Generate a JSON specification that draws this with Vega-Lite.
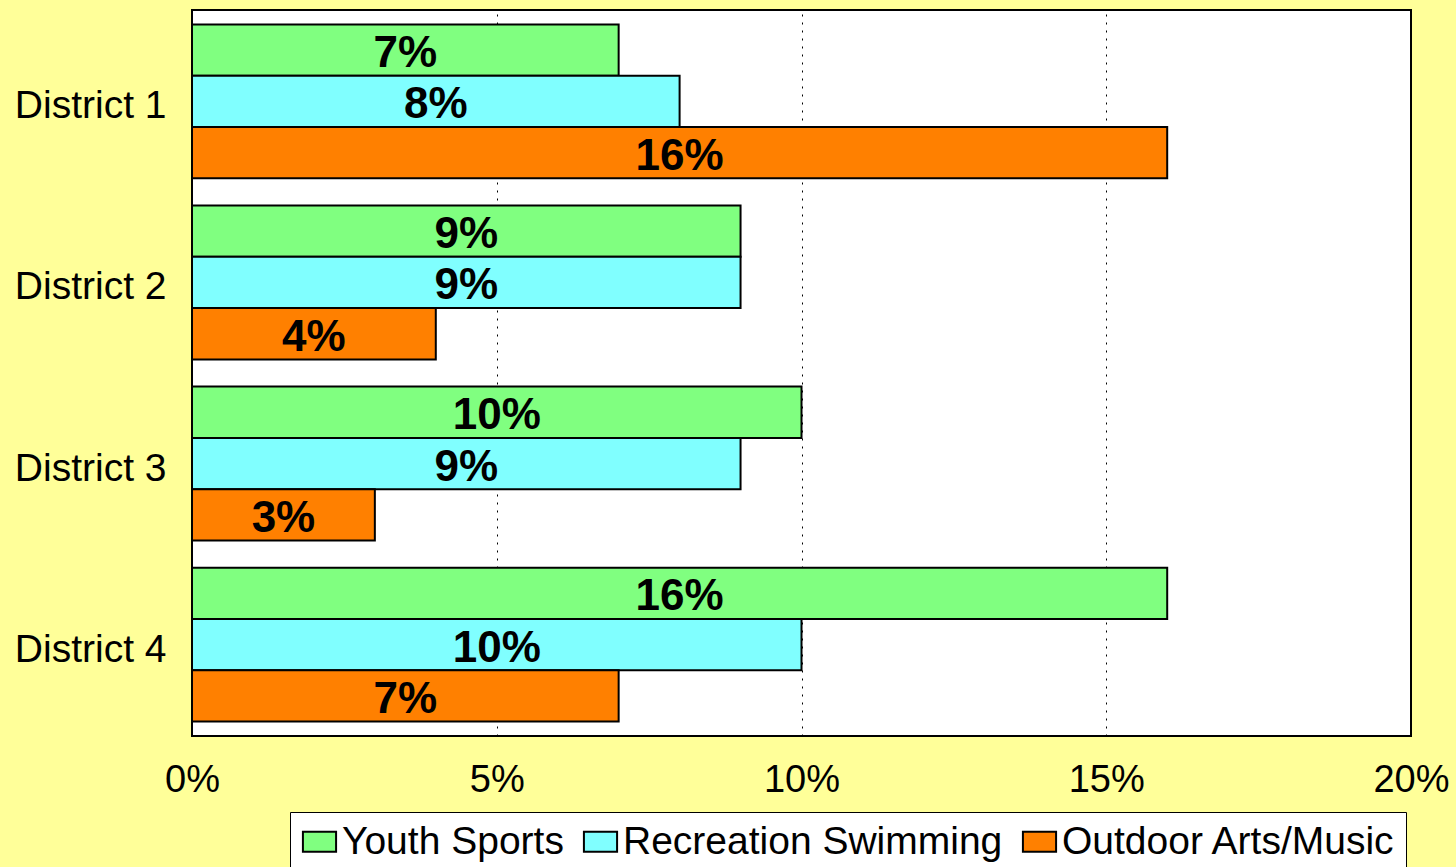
{
  "$schema": "https://vega.github.io/schema/vega-lite/v6.json",
  "width": 1219,
  "height": 726,
  "autosize": "none",
  "padding": {"left": 192, "top": 10, "right": 45, "bottom": 131},
  "background": "#FFFF99",
  "config": {
    "view": {"fill": "white", "stroke": "black", "strokeWidth": 2},
    "font": "Liberation Sans"
  },
  "data": {
    "values": [
      {"district": "District 1", "series": "Youth Sports", "value": 0.07},
      {"district": "District 1", "series": "Recreation Swimming", "value": 0.08},
      {"district": "District 1", "series": "Outdoor Arts/Music", "value": 0.16},
      {"district": "District 2", "series": "Youth Sports", "value": 0.09},
      {"district": "District 2", "series": "Recreation Swimming", "value": 0.09},
      {"district": "District 2", "series": "Outdoor Arts/Music", "value": 0.04},
      {"district": "District 3", "series": "Youth Sports", "value": 0.10},
      {"district": "District 3", "series": "Recreation Swimming", "value": 0.09},
      {"district": "District 3", "series": "Outdoor Arts/Music", "value": 0.03},
      {"district": "District 4", "series": "Youth Sports", "value": 0.16},
      {"district": "District 4", "series": "Recreation Swimming", "value": 0.10},
      {"district": "District 4", "series": "Outdoor Arts/Music", "value": 0.07}
    ]
  },
  "encoding": {
    "y": {
      "field": "district",
      "type": "nominal",
      "title": null,
      "scale": {"paddingInner": 0.15, "paddingOuter": 0.08},
      "axis": {
        "domain": false,
        "ticks": false,
        "labelFontSize": 39,
        "labelFont": "Liberation Sans",
        "labelColor": "black",
        "labelPadding": 26,
        "labelOffset": 5,
        "labelLimit": 400
      }
    },
    "yOffset": {
      "field": "series",
      "type": "nominal",
      "scale": {
        "domain": ["Youth Sports", "Recreation Swimming", "Outdoor Arts/Music"],
        "paddingInner": 0,
        "paddingOuter": 0
      }
    }
  },
  "layer": [
    {
      "mark": {"type": "bar", "stroke": "black", "strokeWidth": 2},
      "encoding": {
        "x": {
          "field": "value",
          "type": "quantitative",
          "title": null,
          "scale": {"domain": [0, 0.2], "nice": false},
          "axis": {
            "values": [0, 0.05, 0.1, 0.15, 0.2],
            "format": ".0%",
            "domain": false,
            "ticks": false,
            "grid": true,
            "gridColor": "black",
            "gridDash": [2, 6],
            "gridWidth": 1,
            "labelFontSize": 38,
            "labelFont": "Liberation Sans",
            "labelColor": "black",
            "labelPadding": 25,
            "labelFlush": false,
            "labelOverlap": false
          }
        },
        "color": {
          "field": "series",
          "type": "nominal",
          "scale": {
            "domain": ["Youth Sports", "Recreation Swimming", "Outdoor Arts/Music"],
            "range": ["#80FF80", "#80FFFF", "#FF8000"]
          },
          "legend": {
            "orient": "none",
            "legendX": 98,
            "legendY": 802,
            "direction": "horizontal",
            "title": null,
            "fillColor": "white",
            "strokeColor": "black",
            "padding": 10,
            "labelFontSize": 39,
            "labelFont": "Liberation Sans",
            "labelColor": "black",
            "labelLimit": 1000,
            "labelOffset": 3,
            "columnPadding": 15,
            "symbolType": "M-1,-0.6H1V0.6H-1Z",
            "symbolSize": 1100,
            "symbolStrokeColor": "black",
            "symbolStrokeWidth": 2,
            "symbolOpacity": 1
          }
        }
      }
    },
    {
      "mark": {
        "type": "text",
        "fontWeight": "bold",
        "fontSize": 44,
        "font": "Liberation Sans",
        "baseline": "middle",
        "align": "center",
        "dy": 4,
        "color": "black"
      },
      "encoding": {
        "x": {
          "field": "value",
          "type": "quantitative",
          "scale": {"domain": [0, 0.4], "nice": false},
          "axis": null
        },
        "text": {"field": "value", "type": "quantitative", "format": ".0%"}
      }
    }
  ],
  "resolve": {"scale": {"x": "independent"}}
}
